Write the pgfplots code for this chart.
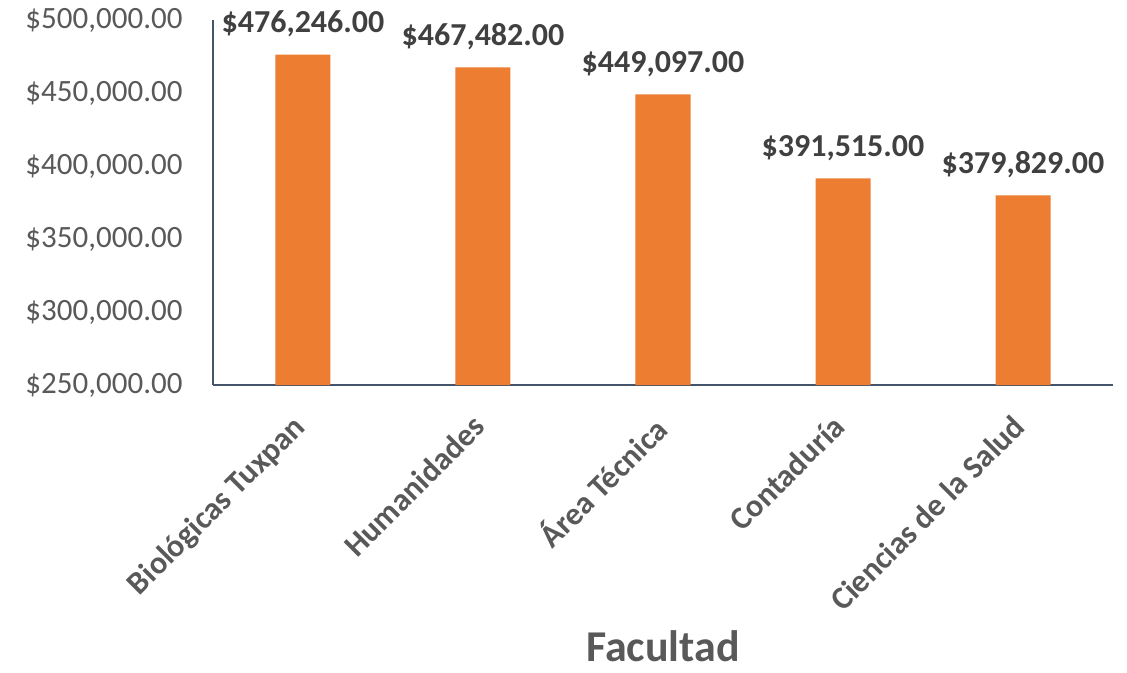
\documentclass[border=0pt]{standalone}
\usepackage{pgfplots}
\pgfplotsset{compat=1.18}
\usepackage{fontspec}
\setmainfont{Carlito}
\definecolor{barorange}{HTML}{ED7D31}
\definecolor{axisblue}{HTML}{44546A}
\definecolor{ticktext}{HTML}{595959}
\definecolor{labeltext}{HTML}{404040}
\begin{document}
\begin{tikzpicture}
\useasboundingbox (-213pt,-287pt) rectangle (914pt,385pt);
\begin{axis}[
  scale only axis,
  width=900pt, height=365pt,
  xmin=-0.5, xmax=4.5,
  ymin=250000, ymax=500000,
  axis x line*=bottom, axis y line*=left,
  axis line style={axisblue, line width=2.2pt},
  x axis line style={-}, y axis line style={-},
  major tick length=0pt,
  scaled y ticks=false,
  xtick={0,1,2,3,4},
  xticklabels={Biológicas Tuxpan,Humanidades,Área Técnica,Contaduría,Ciencias de la Salud},
  xticklabel style={xshift=-12pt, yshift=-25pt, rotate=45, anchor=north east, font=\fontsize{32}{36}\selectfont\bfseries, text=ticktext, inner sep=2pt},
  ytick={250000,300000,350000,400000,450000,500000},
  yticklabels={{\$250,000.00},{\$300,000.00},{\$350,000.00},{\$400,000.00},{\$450,000.00},{\$500,000.00}},
  yticklabel style={font=\fontsize{31}{35}\selectfont, text=ticktext, xshift=-27pt},
  xlabel={Facultad},
  xlabel style={font=\fontsize{44}{48}\selectfont\bfseries, text=ticktext, yshift=-11pt},
  ybar, bar width=55pt,
  clip=false,
  nodes near coords={\$\pgfmathprintnumber[fixed,fixed zerofill,precision=2,1000 sep={,}]{\pgfplotspointmeta}},
  every node near coord/.append style={font=\fontsize{32}{36}\selectfont\bfseries, text=labeltext, yshift=14pt},
  /pgf/number format/assume math mode=true,
]
\addplot[fill=barorange, draw=none] coordinates {(0,476246) (1,467482) (2,449097) (3,391515) (4,379829)};
\end{axis}
\end{tikzpicture}
\end{document}
